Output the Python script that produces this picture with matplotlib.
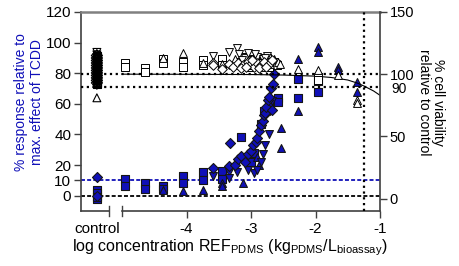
import matplotlib
matplotlib.use("Agg")
import matplotlib.pyplot as plt
import numpy as np

plt.rcParams['font.family'] = ['Liberation Sans', 'DejaVu Sans']
plt.rcParams['font.size'] = 11
plt.rcParams['mathtext.default'] = 'regular'
plt.rcParams['axes.unicode_minus'] = False

# posicion de los controles (eje roto)
ctrl_x = -5.39

# viabilidad celular (eje derecho, simbolos abiertos)
viab_ctrl_sq = [92, 93, 94, 95, 96, 97, 98, 99, 100, 101, 102, 103, 104, 105, 106, 107,
                108, 109, 110, 111, 112, 113, 114, 115]
viab_ctrl_tri = [81, 92.5, 94.5, 96.5, 98.5, 100.5, 102.5, 104.5, 106.5, 108.5, 110.5,
                 112.5, 114.5, 116.5]
viab_ctrl_trid = [91, 93.5, 95.5, 97.5, 99.5, 101.5, 103.5, 105.5, 107.5, 109.5, 111.5,
                  113.5, 115.5, 117.5]
viab_ctrl_dia = [93, 95, 97, 99, 101, 103, 105, 107, 109, 111, 113, 115]

viab_sq_x = [-4.95, -4.95, -4.64, -4.64, -4.36, -4.36, -4.05, -4.05, -3.74, -3.74, -3.45, -3.45,
             -3.2, -3.15, -3.1, -3.05, -3.0, -2.95, -2.9, -2.85, -2.8, -2.75, -2.7, -2.65, -2.6,
             -3.12, -3.02, -2.92, -2.82, -2.72, -1.96, -1.96]
viab_sq_y = [109, 106, 105, 102, 112, 109, 110, 106, 111, 107, 112, 107,
             110, 108, 113, 111, 109, 112, 110, 108, 111, 113, 109, 110, 107,
             114, 106, 108, 113, 106, 98, 95]
viab_tri_x = [-4.36, -4.05, -3.74, -3.45, -3.25, -3.1, -2.95, -2.85, -2.75, -2.65, -2.58, -2.55,
              -3.0, -2.9, -2.8, -2.7, -2.27, -1.96, -1.65, -1.36, -1.36]
viab_tri_y = [113, 117, 109, 108, 112, 110, 114, 111, 109, 112, 110, 108,
              107, 109, 106, 108, 104, 103, 99, 79, 77]
viab_trid_x = [-3.59, -3.34, -3.22, -3.18, -3.1, -3.05, -2.98, -2.9, -2.82, -2.75, -2.7,
               -3.14, -2.94, -2.86, -2.78]
viab_trid_y = [115, 118, 121, 116, 113, 117, 111, 114, 112, 115, 110,
               111, 116, 109, 113]
viab_dia_x = [-3.59, -3.59, -3.45, -3.34, -3.28, -3.2, -3.12, -3.05, -3.0, -2.95, -2.9, -2.85,
              -2.8, -2.72, -2.68, -3.16, -3.08, -2.98, -2.88, -2.76]
viab_dia_y = [109, 107, 104, 108, 106, 109, 107, 110, 108, 106, 109, 107,
              110, 108, 111, 105, 106, 111, 105, 106]

# curva de viabilidad
fit_x = [-5, -4, -3, -2.5, -2, -1.75, -1.5, -1.35, -1.25, -1.1, -1]
fit_y = [100, 99.9, 99.7, 99.3, 98.4, 97.3, 95.3, 92.8, 90.5, 86.5, 83]

# respuesta (eje izquierdo, simbolos azules)
resp_sq_x = [ctrl_x, ctrl_x, ctrl_x, ctrl_x,
             -4.95, -4.95, -4.64, -4.64, -4.36, -4.36, -4.05, -4.05, -3.74, -3.74, -3.45, -3.45,
             -3.15, -3.05, -3.0, -2.95, -2.85, -2.8, -2.72, -2.58, -2.58, -2.27, -2.27, -1.96, -1.96]
resp_sq_y = [4, 2, -2, -1,
             11, 6, 8.5, 4.5, 6.5, 4.5, 13, 8, 15.5, 10, 16, 11,
             38.5, 25, 22, 28, 47, 55, 61, 64, 61, 76, 64, 75, 68]
resp_tri_x = [-4.36, -4.05, -3.74, -3.45, -3.45, -3.12, -2.9, -2.88, -2.53, -2.53,
              -2.27, -2.27, -1.96, -1.96, -1.65, -1.65, -1.36, -1.36]
resp_tri_y = [4, 3, 3.5, 8, 6, 8.5, 25, 20, 44, 31,
              89, 55, 97, 94, 84, 82, 74, 68]
resp_trid_x = [-3.59, -3.34, -3.34, -3.22, -3.05, -2.95, -2.9, -2.85, -2.82, -2.78, -2.72, -2.7, -2.68]
resp_trid_y = [13, 15.6, 11.7, 15.6, 17, 15, 17, 22, 27, 33, 40, 55, 62]
resp_dia_x = [ctrl_x, ctrl_x, -3.59, -3.34, -3.33, -3.25, -3.2, -3.15, -3.1, -3.05, -3.0, -2.97,
              -2.93, -2.9, -2.87, -2.84, -2.82, -2.8, -2.78, -2.76, -2.74, -2.72, -2.69, -2.68, -2.66, -2.64]
resp_dia_y = [12.5, 0, 18, 19.6, 34.6, 20, 24, 26, 22, 27, 29, 33,
              35, 38, 42, 46, 48.5, 53, 54, 58, 62.6, 64.6, 70.5, 56, 73, 79.6]

blue = '#1010b8'
edge = '#151515'

fig = plt.figure(figsize=(4.59, 2.66), dpi=100)
ax = fig.add_axes([0.1765, 0.2068, 0.6514, 0.7482])
ax2 = ax.twinx()

ax.set_xlim(-5.636, -1)
ax.set_ylim(-10, 120)
ax2.set_ylim(-10, 150)

# lineas de referencia
ax.axhline(0, color='black', lw=1.3, ls=(0, (2.2, 1.2)), zorder=1)
ax.axhline(10, color=blue, lw=1.3, ls=(0, (2.2, 1.2)), zorder=1)
ax2.axhline(100, color='black', lw=1.6, ls=(0, (1, 1.6)), zorder=1)
ax2.axhline(90, color='black', lw=1.6, ls=(0, (1, 1.6)), zorder=1)
ax2.axvline(-1.25, color='black', lw=1.6, ls=(0, (1, 1.6)), zorder=1)
ax2.plot(fit_x, fit_y, color='black', lw=0.8, zorder=2)

ms = 32
kw_b = dict(color=blue, edgecolors=edge, linewidths=0.8, s=ms, zorder=3)
ax.scatter(resp_sq_x, resp_sq_y, marker='s', **kw_b)
ax.scatter(resp_tri_x, resp_tri_y, marker='^', **kw_b)
ax.scatter(resp_trid_x, resp_trid_y, marker='v', **kw_b)
ax.scatter(resp_dia_x, resp_dia_y, marker='D', s=26, color=blue, edgecolors=edge, linewidths=0.8, zorder=3)

# controles: muchos simbolos encimados
kw_c = dict(facecolors='none', edgecolors='black', linewidths=0.8, s=ms, zorder=4)
ax2.scatter([ctrl_x] * len(viab_ctrl_sq), viab_ctrl_sq, marker='s', **kw_c)
ax2.scatter([ctrl_x] * len(viab_ctrl_tri), viab_ctrl_tri, marker='^', **kw_c)
ax2.scatter([ctrl_x] * len(viab_ctrl_trid), viab_ctrl_trid, marker='v', **kw_c)
ax2.scatter([ctrl_x] * len(viab_ctrl_dia), viab_ctrl_dia, marker='D', **kw_c)

kw_o = dict(facecolors='white', edgecolors='black', linewidths=0.7, s=ms, zorder=4)
ax2.scatter(viab_sq_x, viab_sq_y, marker='s', **kw_o)
ax2.scatter(viab_tri_x, viab_tri_y, marker='^', **kw_o)
ax2.scatter(viab_trid_x, viab_trid_y, marker='v', **kw_o)
ax2.scatter(viab_dia_x, viab_dia_y, marker='D', s=24, facecolors='white', edgecolors='black',
            linewidths=0.7, zorder=4)

# ejes y spines
spc = '#404040'
ax.spines['top'].set_color('#808080')
ax.spines['top'].set_linewidth(1.8)
ax.spines['right'].set_visible(False)
ax.spines['bottom'].set_visible(False)
ax.spines['left'].set_color(spc)
ax.spines['left'].set_linewidth(1.2)
for s in ['top', 'left', 'bottom']:
    ax2.spines[s].set_visible(False)
ax2.spines['right'].set_color(spc)
ax2.spines['right'].set_linewidth(1.2)

# eje x roto
tr = ax.get_xaxis_transform()
ax.plot([-5.636, -5.2], [0, 0], color=spc, lw=1.2, transform=tr, clip_on=False)
ax.plot([-5.0, -1], [0, 0], color=spc, lw=1.2, transform=tr, clip_on=False)
for bx in [-5.2, -5.0]:
    ax.plot([bx, bx], [-0.025, 0.025], color=spc, lw=1.0, transform=tr, clip_on=False)

ax.set_xticks([ctrl_x, -4, -3, -2, -1])
ax.set_xticklabels(['control', '-4', '-3', '-2', '-1'])
ax.xaxis.get_major_ticks()[0].tick1line.set_visible(False)
ax.tick_params(axis='x', length=5, width=1.0, color=spc, pad=3)
ax.set_yticks([0, 10, 20, 40, 60, 80, 100, 120])
ax.tick_params(axis='y', length=5, width=1.0, color=spc, pad=2)
ax2.set_yticks([0, 50, 100, 150])
ax2.tick_params(axis='y', length=5, width=1.0, color=spc, pad=2, labelsize=10.5)
ax2.text(1.0 + 11 / 299, 88.3, '90', transform=ax2.get_yaxis_transform(), ha='left',
         va='center', fontsize=10)

fig.text(29 / 459, 0.615, '% response relative to\nmax. effect of TCDD', rotation=90,
         ha='center', va='center', multialignment='center', color=blue, fontsize=10,
         linespacing=1.15)
fig.text(431 / 459, 0.615, '% cell viability\nrelative to control', rotation=270,
         ha='center', va='center', multialignment='center', fontsize=10, linespacing=1.0)
fig.text(230 / 459, 0.068,
         'log concentration REF$_{PDMS}$ (kg$_{PDMS}$/L$_{bioassay}$)',
         ha='center', va='center', fontsize=11.5)

fig.savefig('out.png', dpi=100)
